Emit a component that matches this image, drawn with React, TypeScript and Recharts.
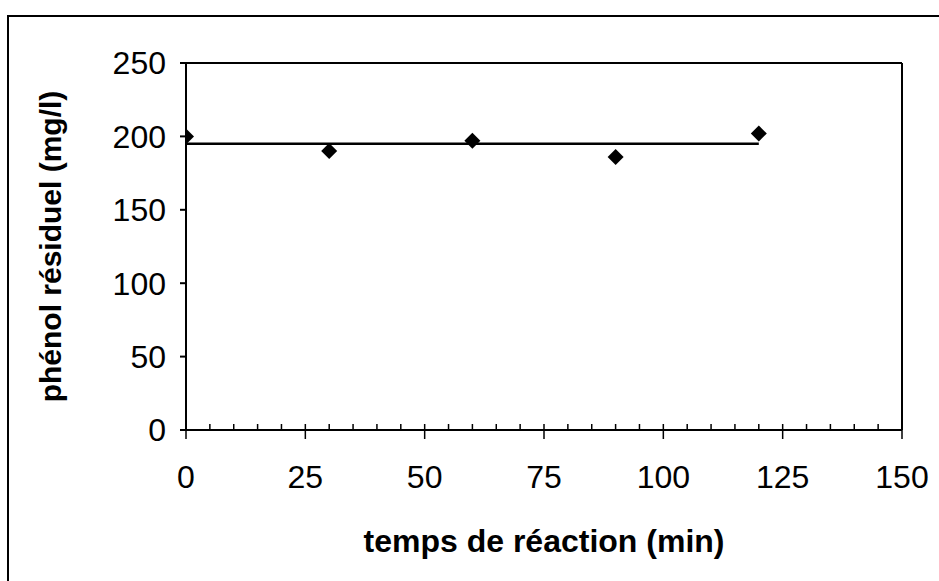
import {
  ComposedChart, Scatter, Line, XAxis, YAxis, ReferenceLine
} from 'recharts'

const measures = [
  { t: 0, phenol: 200 },
  { t: 30, phenol: 190 },
  { t: 60, phenol: 197 },
  { t: 90, phenol: 186 },
  { t: 120, phenol: 202 },
]

// mean level drawn as a flat line over the run
const meanLine = [
  { t: 0, phenol: 195 },
  { t: 120, phenol: 195 },
]

const xTicks = [0, 25, 50, 75, 100, 125, 150]
const xMinorTicks = [
  0, 5, 10, 15, 20, 25, 30, 35, 40, 45, 50, 55, 60, 65, 70, 75,
  80, 85, 90, 95, 100, 105, 110, 115, 120, 125, 130, 135, 140, 145, 150,
]
const yTicks = [0, 50, 100, 150, 200, 250]

const font = '"Liberation Sans", Arial, sans-serif'

const Diamond = (props: any) => {
  const { cx, cy } = props
  const r = 8
  return <polygon points={`${cx},${cy - r} ${cx + r},${cy} ${cx},${cy + r} ${cx - r},${cy}`} fill="#000" />
}

// minor ticks point inward, major ticks cross the axis and carry a label
const XTick = (props: any) => {
  const { x, y, payload } = props
  const major = xTicks.includes(payload.value)
  return (
    <g>
      <line x1={x} x2={x} y1={y - 6} y2={major ? y + 9 : y} stroke="#000" strokeWidth={1.5} />
      {major && (
        <text x={x} y={y + 58} textAnchor="middle" fontSize={32} fill="#000" fontFamily={font}>
          {payload.value}
        </text>
      )}
    </g>
  )
}

export default function App() {
  return (
    <div style={{
      position: 'absolute', left: 7, top: 15, width: 940, height: 570,
      borderTop: '2px solid #000', borderLeft: '2px solid #000', fontFamily: font,
    }}>
      <ComposedChart width={930} height={560} margin={{ top: 46, right: 37, left: 0, bottom: 47 }}>
        <XAxis
          dataKey="t" type="number" domain={[0, 150]} ticks={xMinorTicks} interval={0} allowDataOverflow
          height={100} tickSize={0} tickMargin={0} tickLine={false}
          stroke="#000" strokeWidth={2}
          tick={<XTick />}
          label={{ value: 'temps de réaction (min)', position: 'center', dy: 61, fontSize: 32, fontWeight: 'bold', fill: '#000', fontFamily: font }}
        />
        <YAxis
          type="number" domain={[0, 250]} ticks={yTicks} width={177}
          tickSize={6} tickMargin={14} stroke="#000" strokeWidth={2}
          tick={{ fontSize: 32, fill: '#000', fontFamily: font }}
          label={{ value: 'phénol résiduel (mg/l)', angle: -90, position: 'center', dx: -47, fontSize: 30, fontWeight: 'bold', fill: '#000', fontFamily: font }}
        />
        <ReferenceLine y={250} stroke="#000" strokeWidth={2} />
        <ReferenceLine x={150} stroke="#000" strokeWidth={2} />
        <Line data={meanLine} dataKey="phenol" stroke="#000" strokeWidth={2.5} dot={false} isAnimationActive={false} />
        <Scatter data={measures} dataKey="phenol" shape={<Diamond />} isAnimationActive={false} />
      </ComposedChart>
    </div>
  )
}
